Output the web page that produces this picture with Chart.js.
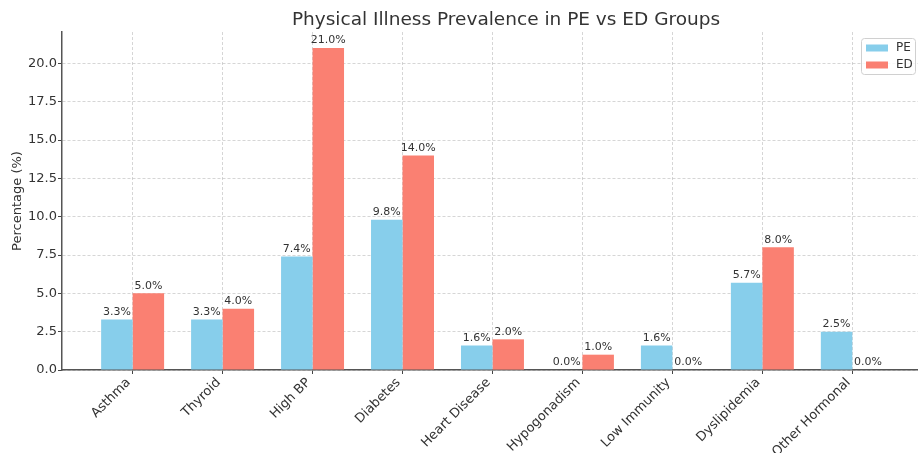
<!DOCTYPE html>
<html>
<head>
<meta charset="utf-8">
<script src="https://cdn.jsdelivr.net/npm/chart.js@4/dist/chart.umd.min.js"></script>
<style>
  html, body { margin: 0; padding: 0; background: #fff; }
  #wrap { width: 918px; height: 453px; position: relative; }
</style>
</head>
<body>
<div id="wrap"><canvas id="chart"></canvas></div>
<script>
// data
const categories = ['Asthma', 'Thyroid', 'High BP', 'Diabetes', 'Heart Disease', 'Hypogonadism', 'Low Immunity', 'Dyslipidemia', 'Other Hormonal']
const peValues = [3.3, 3.3, 7.4, 9.8, 1.6, 0.0, 1.6, 5.7, 2.5]
const edValues = [5.0, 4.0, 21.0, 14.0, 2.0, 1.0, 0.0, 8.0, 0.0]
const seriesNames = ['PE', 'ED']
const yTicks = [0, 2.5, 5, 7.5, 10, 12.5, 15, 17.5, 20]

const font = "'DejaVu Sans', sans-serif"
const colPE = '#87CEEB'
const colED = '#FA8072'
const gridCol = 'rgba(175,175,175,0.65)'

// title drawn over the plot area
const titlePlugin = {
    id: 'titlePlugin',
    afterDraw(chart){
        const ctx = chart.ctx
        ctx.save()
        ctx.font = `18.5px ${font}`
        ctx.fillStyle = '#333'
        ctx.textAlign = 'center'
        ctx.textBaseline = 'middle'
        ctx.fillText('Physical Illness Prevalence in PE vs ED Groups', 506, 20)
        ctx.restore()
    }
}

// value labels on top of bars
const valueLabels = {
    id: 'valueLabels',
    afterDatasetsDraw(chart){
        const ctx = chart.ctx
        ctx.save()
        ctx.font = `11px ${font}`
        ctx.fillStyle = '#333'
        ctx.textAlign = 'center'
        ctx.textBaseline = 'bottom'
        chart.data.datasets.forEach((ds, i) => {
            chart.getDatasetMeta(i).data.forEach((bar, j) => {
                ctx.fillText(ds.data[j].y.toFixed(1) + '%', bar.x, bar.y - 2)
            })
        })
        ctx.restore()
    }
}

// legend box inside the upper right corner
const boxLegend = {
    id: 'boxLegend',
    afterDraw(chart){
        const ctx = chart.ctx
        const a = chart.chartArea
        const w = 54, h = 36
        const x = a.right - w - 3, y = a.top + 6
        ctx.save()
        ctx.fillStyle = 'rgba(255,255,255,0.85)'
        ctx.strokeStyle = '#d0d0d0'
        ctx.lineWidth = 1
        ctx.beginPath()
        ctx.roundRect(x + 0.5, y + 0.5, w, h, 3)
        ctx.fill()
        ctx.stroke()
        ctx.font = `12px ${font}`
        ctx.textBaseline = 'middle'
        ctx.textAlign = 'left'
        chart.data.datasets.forEach((ds, i) => {
            const ly = y + 10 + i * 17
            ctx.fillStyle = ds.backgroundColor
            ctx.fillRect(x + 5, ly - 3.5, 22, 7)
            ctx.fillStyle = '#333'
            ctx.fillText(ds.label, x + 35, ly)
        })
        ctx.restore()
    }
}

const ctx = document.getElementById('chart')

new Chart(ctx, {
    type: 'bar',
    data: {
        datasets: [
            { label: seriesNames[0], data: peValues.map((v, i) => ({ x: i, y: v })), backgroundColor: colPE },
            { label: seriesNames[1], data: edValues.map((v, i) => ({ x: i, y: v })), backgroundColor: colED }
        ]
    },
    options: {
        responsive: true,
        maintainAspectRatio: false,
        animation: false,
        datasets: { bar: { categoryPercentage: 0.7, barPercentage: 1.0, borderWidth: 0 } },
        layout: { padding: { top: 32, right: 0, left: 0, bottom: 0 } },
        plugins: {
            legend: { display: false },
            title: { display: false },
            tooltip: { enabled: false }
        },
        scales: {
            x: {
                type: 'linear',
                offset: false,
                z: 1,
                min: -0.785,
                max: 8.73,
                afterBuildTicks: (scale) => { scale.ticks = categories.map((c, i) => ({ value: i })) },
                afterFit: (scale) => { scale.height = 83 },
                ticks: {
                    autoSkip: false,
                    minRotation: 45,
                    maxRotation: 45,
                    color: '#333',
                    font: { family: font, size: 13 },
                    padding: 1,
                    labelOffset: -4,
                    callback: (v) => categories[v]
                },
                grid: {
                    offset: false,
                    color: gridCol,
                    lineWidth: 0.8,
                    tickColor: '#444',
                    tickLength: 4,
                    tickWidth: 1,
                    tickBorderDash: []
                },
                border: { color: '#555', width: 1.5, dash: [3, 2] }
            },
            y: {
                min: 0,
                max: 22.05,
                z: 1,
                afterBuildTicks: (scale) => { scale.ticks = yTicks.map(v => ({ value: v })) },
                afterFit: (scale) => { scale.width = 62 },
                ticks: {
                    color: '#333',
                    font: { family: font, size: 13 },
                    padding: 1,
                    callback: (v) => v.toFixed(1)
                },
                grid: {
                    color: gridCol,
                    lineWidth: 0.8,
                    tickColor: '#444',
                    tickLength: 4,
                    tickWidth: 1,
                    tickBorderDash: []
                },
                border: { color: '#555', width: 1.5, dash: [3, 2] },
                title: {
                    display: true,
                    text: 'Percentage (%)',
                    color: '#333',
                    font: { family: font, size: 13 },
                    padding: { top: 10, bottom: 2 }
                }
            }
        }
    },
    plugins: [titlePlugin, valueLabels, boxLegend]
})
</script>
</body>
</html>
